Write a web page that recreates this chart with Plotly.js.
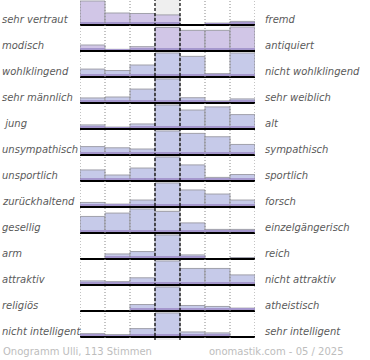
<!DOCTYPE html>
<html><head><meta charset="utf-8">
<script src="https://cdn.plot.ly/plotly-3.0.1.min.js"></script>
<style>html,body{margin:0;padding:0;background:#fff;}#chart{width:370px;height:360px;}</style>
</head><body><div id="chart"></div>
<script>
const leftLabels = ["sehr vertraut","modisch","wohlklingend","sehr männlich","\u00a0jung","unsympathisch","unsportlich","zurückhaltend","gesellig","arm","attraktiv","religiös","nicht intelligent"];
const rightLabels = ["fremd","antiquiert","nicht wohlklingend","sehr weiblich","alt","sympathisch","sportlich","forsch","einzelgängerisch","reich","nicht attraktiv","atheistisch","sehr intelligent"];
const scalePoints = [1,2,3,4,5,6,7];
// relative bar heights per row (0-100, 100 = row maximum)
const vertraut     = [100, 50, 48, 42, 0, 8, 15];
const modisch      = [25, 7, 18, 98, 86, 86, 100];
const wohlklingend = [33, 27, 50, 100, 86, 14, 100];
const maennlich    = [21, 25, 58, 100, 22, 9, 17];
const jung         = [17, 8, 21, 100, 79, 92, 60];
const unsympathisch= [35, 30, 25, 100, 90, 76, 44];
const unsportlich  = [46, 25, 54, 100, 67, 15, 27];
const zurueck      = [19, 12, 29, 100, 71, 54, 29];
const gesellig     = [69, 83, 100, 90, 42, 15, 15];
const arm          = [0, 21, 31, 100, 17, 0, 6];
const attraktiv    = [17, 14, 30, 100, 69, 69, 42];
const religioes    = [0, 0, 27, 100, 23, 19, 12];
const intelligent  = [14, 10, 35, 100, 21, 17, 2];
const rows = [vertraut, modisch, wohlklingend, maennlich, jung, unsympathisch, unsportlich, zurueck, gesellig, arm, attraktiv, religioes, intelligent];
const footerLeft = "Onogramm Ulli, 113 Stimmen";
const footerRight = "onomastik.com - 05 / 2025";

const W = 370, H = 360;
const plotBottomPx = 340;      // y axis covers pixels 0..340
const rowPitch = 26, firstBase = 25, maxH = 24;
const baseVal = r => plotBottomPx - (firstBase + rowPitch * r);

const traces = [];
const shapes = [];
const annotations = [];

// middle column background
shapes.push({type:'rect', xref:'x', yref:'y', x0:3.5, x1:4.5, y0:0, y1:plotBottomPx, fillcolor:'#efefef', line:{width:0}, layer:'below'});

rows.forEach((vals, r) => {
  const b = baseVal(r);
  const hs = vals.map(v => v / 100 * maxH);
  const col = r < 2 ? '#d1c6e7' : '#c6cae9';
  traces.push({type:'bar', x:scalePoints, y:hs, base:b, width:1,
    marker:{color:col, line:{color:'#a0a0aa', width:1}}, hoverinfo:'skip', showlegend:false});
  traces.push({type:'bar', x:scalePoints, y:hs.map(h => h > 0 ? Math.min(h, 3) : 0), base:b, width:0.985,
    marker:{color:'#a597cd', line:{width:0}}, hoverinfo:'skip', showlegend:false});
  shapes.push({type:'line', xref:'x', yref:'y', x0:0.5, x1:7.5, y0:b, y1:b, line:{color:'#000', width:2}, layer:'above'});
  annotations.push({xref:'paper', yref:'y', x:0, y:b + 5.5, xanchor:'left', yanchor:'middle', showarrow:false,
    text:leftLabels[r], font:{family:'DejaVu Sans', size:10, color:'#5a5a5a', style:'italic'}});
  annotations.push({xref:'paper', yref:'y', x:263 / W, y:b + 5.5, xanchor:'left', yanchor:'middle', showarrow:false,
    text:rightLabels[r], font:{family:'DejaVu Sans', size:10, color:'#5a5a5a', style:'italic'}});
});

[0.5, 1.5, 2.5, 5.5, 6.5, 7.5].forEach(x => shapes.push({type:'line', xref:'x', yref:'y', x0:x, x1:x, y0:-1, y1:plotBottomPx,
  line:{color:'#888', width:1, dash:'1px,2px'}, layer:'above'}));
[3.5, 4.5].forEach(x => shapes.push({type:'line', xref:'x', yref:'y', x0:x, x1:x, y0:-1, y1:plotBottomPx,
  line:{color:'#000', width:1.2, dash:'3px,2px'}, layer:'above'}));

annotations.push({xref:'paper', yref:'paper', x:0.5 / W, y:(H - 351) / H, xanchor:'left', yanchor:'middle', showarrow:false,
  text:footerLeft, font:{family:'DejaVu Sans', size:10, color:'#bdbdbd'}});
annotations.push({xref:'paper', yref:'paper', x:346 / W, y:(H - 351) / H, xanchor:'right', yanchor:'middle', showarrow:false,
  text:footerRight, font:{family:'DejaVu Sans', size:10, color:'#bdbdbd'}});

const layout = {
  width:W, height:H, margin:{l:0, r:0, t:0, b:0}, paper_bgcolor:'#fff', plot_bgcolor:'rgba(0,0,0,0)',
  barmode:'overlay', bargap:0,
  xaxis:{domain:[80 / W, 255 / W], range:[0.5, 7.5], visible:false, fixedrange:true},
  yaxis:{domain:[(H - plotBottomPx) / H, 1], range:[0, plotBottomPx], visible:false, fixedrange:true},
  shapes:shapes, annotations:annotations
};
Plotly.newPlot('chart', traces, layout, {staticPlot:true, displayModeBar:false});
</script></body></html>
